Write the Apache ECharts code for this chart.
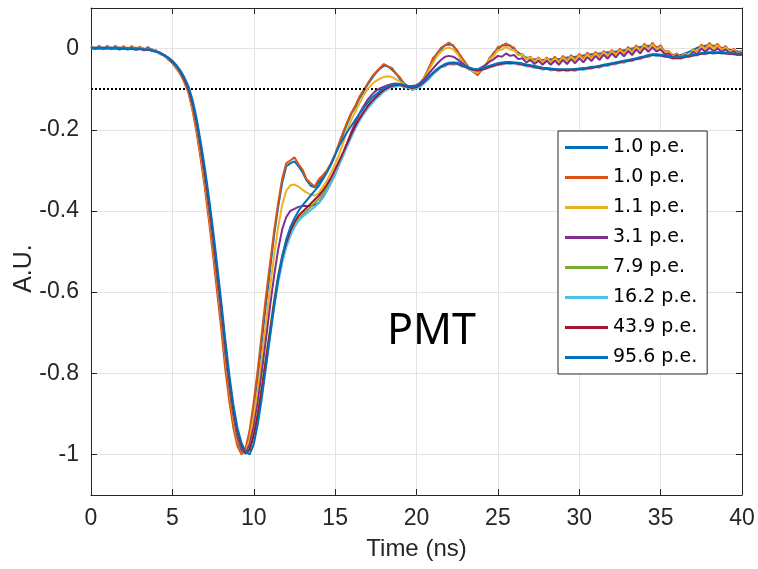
<!DOCTYPE html>
<html><head><meta charset="utf-8">
<script src="https://cdn.jsdelivr.net/npm/echarts@6/dist/echarts.min.js"></script>
<style>html,body{margin:0;padding:0;background:#fff}#c{width:758px;height:569px}</style>
</head><body><div id="c"></div>
<script>
const timeNs = [0,0.25,0.5,0.75,1,1.25,1.5,1.75,2,2.25,2.5,2.75,3,3.25,3.5,3.75,
4,4.25,4.5,4.75,5,5.25,5.5,5.75,6,6.25,6.5,6.75,7,7.25,7.5,7.75,8,8.25,8.5,8.75,9,9.25,9.5,9.75,
10,10.25,10.5,10.75,11,11.25,11.5,11.75,12,12.25,12.5,12.75,13,13.25,13.5,13.75,14,14.25,14.5,14.75,
15,15.25,15.5,15.75,16,16.25,16.5,16.75,17,17.25,17.5,17.75,18,18.25,18.5,18.75,19,19.25,19.5,19.75,
20,20.25,20.5,20.75,21,21.25,21.5,21.75,22,22.25,22.5,22.75,23,23.25,23.5,23.75,24,24.25,24.5,24.75,
25,25.25,25.5,25.75,26,26.25,26.5,26.75,27,27.25,27.5,27.75,28,28.25,28.5,28.75,29,29.25,29.5,29.75,
30,30.25,30.5,30.75,31,31.25,31.5,31.75,32,32.25,32.5,32.75,33,33.25,33.5,33.75,34,34.25,34.5,34.75,
35,35.25,35.5,35.75,36,36.25,36.5,36.75,37,37.25,37.5,37.75,38,38.25,38.5,38.75,39,39.25,39.5,39.75,40];

const seriesNames = ['1.0 p.e.', '1.0 p.e. ', '1.1 p.e.', '3.1 p.e.', '7.9 p.e.', '16.2 p.e.', '43.9 p.e.', '95.6 p.e.'];
const seriesColors = ['#0072BD','#D95319','#EDB120','#7E2F8E','#77AC30','#4DBEEE','#A2142F','#0072BD'];

const pe1_0a = [0.001,0.003,0.001,0.003,0.001,0.003,0,0.003,0,0.002,-0.001,0.002,-0.001,0,-0.003,-0.002,
-0.007,-0.01,-0.018,-0.024,-0.036,-0.046,-0.064,-0.08,-0.108,-0.148,-0.2,-0.265,-0.335,-0.41,-0.495,-0.585,
-0.675,-0.77,-0.855,-0.925,-0.97,-0.995,-0.99,-0.95,-0.885,-0.81,-0.72,-0.63,-0.545,-0.46,-0.39,-0.33,
-0.29,-0.283,-0.278,-0.29,-0.305,-0.325,-0.338,-0.342,-0.33,-0.316,-0.302,-0.285,-0.262,-0.236,-0.21,-0.184,
-0.16,-0.144,-0.122,-0.106,-0.088,-0.074,-0.06,-0.05,-0.042,-0.044,-0.052,-0.062,-0.076,-0.086,-0.096,-0.1,
-0.096,-0.084,-0.07,-0.048,-0.03,-0.012,-0.002,0.008,0.01,0.008,-0.008,-0.02,-0.036,-0.048,-0.058,-0.062,
-0.054,-0.04,-0.026,-0.01,-0.002,0.008,0.008,0.008,-0.004,-0.01,-0.018,-0.022,-0.026,-0.026,-0.028,-0.028,
-0.028,-0.026,-0.026,-0.026,-0.024,-0.022,-0.022,-0.02,-0.019,-0.017,-0.016,-0.014,-0.014,-0.012,-0.011,-0.009,
-0.009,-0.007,-0.006,-0.004,-0.002,0,0.002,0.004,0.006,0.007,0.006,0.004,0,-0.006,-0.012,-0.015,
-0.017,-0.016,-0.012,-0.008,-0.003,0.002,0.005,0.007,0.008,0.007,0.004,0.002,-0.001,-0.003,-0.005,-0.007,-0.008];

const pe1_0b = [0.006,-0.001,0.007,-0.001,0.007,-0.001,0.007,-0.001,0.006,-0.002,0.006,-0.002,0.005,-0.003,0.004,-0.004,
-0.004,-0.014,-0.016,-0.028,-0.034,-0.05,-0.062,-0.085,-0.11,-0.155,-0.21,-0.275,-0.345,-0.425,-0.51,-0.6,
-0.69,-0.79,-0.87,-0.935,-0.98,-1.0,-0.985,-0.94,-0.87,-0.79,-0.7,-0.61,-0.53,-0.45,-0.38,-0.32,
-0.282,-0.276,-0.268,-0.285,-0.298,-0.322,-0.332,-0.34,-0.322,-0.312,-0.3,-0.282,-0.26,-0.232,-0.205,-0.18,
-0.158,-0.14,-0.118,-0.102,-0.086,-0.07,-0.058,-0.048,-0.038,-0.044,-0.048,-0.062,-0.072,-0.088,-0.094,-0.102,
-0.092,-0.088,-0.068,-0.05,-0.024,-0.014,0.002,0.008,0.015,0.006,-0.004,-0.022,-0.034,-0.052,-0.056,-0.066,
-0.052,-0.044,-0.022,-0.014,0.004,0.006,0.013,0.006,0.002,-0.014,-0.014,-0.026,-0.02,-0.032,-0.022,-0.033,
-0.022,-0.033,-0.02,-0.032,-0.018,-0.03,-0.016,-0.028,-0.013,-0.025,-0.01,-0.022,-0.008,-0.02,-0.006,-0.017,
-0.003,-0.015,0,-0.012,0.004,-0.008,0.008,-0.004,0.012,0,0.014,0.001,0.008,-0.008,-0.006,-0.018,
-0.012,-0.022,-0.012,-0.018,-0.002,-0.008,0.01,0,0.014,0.002,0.012,-0.002,0.006,-0.008,0,-0.012,-0.006];

const pe1_1 = [0.005,-0.001,0.005,-0.001,0.005,-0.001,0.005,-0.002,0.004,-0.002,0.004,-0.003,0.003,-0.004,0.002,-0.005,
-0.005,-0.013,-0.016,-0.026,-0.034,-0.048,-0.062,-0.082,-0.106,-0.148,-0.198,-0.26,-0.33,-0.405,-0.49,-0.575,
-0.665,-0.76,-0.845,-0.915,-0.965,-0.993,-0.995,-0.962,-0.905,-0.84,-0.76,-0.675,-0.59,-0.51,-0.44,-0.385,
-0.35,-0.337,-0.335,-0.34,-0.348,-0.355,-0.36,-0.362,-0.356,-0.34,-0.325,-0.305,-0.285,-0.26,-0.232,-0.2,
-0.175,-0.155,-0.135,-0.115,-0.1,-0.088,-0.08,-0.074,-0.07,-0.068,-0.07,-0.076,-0.082,-0.09,-0.095,-0.096,
-0.092,-0.084,-0.07,-0.054,-0.036,-0.02,-0.008,0,0.002,-0.002,-0.012,-0.028,-0.04,-0.052,-0.056,-0.06,
-0.05,-0.042,-0.026,-0.018,-0.004,-0.002,0.004,-0.002,-0.004,-0.016,-0.016,-0.026,-0.022,-0.033,-0.024,-0.034,
-0.024,-0.035,-0.024,-0.034,-0.022,-0.032,-0.02,-0.03,-0.017,-0.028,-0.014,-0.025,-0.012,-0.022,-0.009,-0.019,
-0.006,-0.017,-0.003,-0.014,0,-0.01,0.004,-0.006,0.008,-0.002,0.01,-0.002,0.004,-0.01,-0.008,-0.02,
-0.014,-0.022,-0.013,-0.018,-0.004,-0.01,0.006,-0.002,0.01,0,0.008,-0.004,0.003,-0.009,-0.002,-0.013,-0.008];

const pe3_1 = [0.004,-0.001,0.004,-0.001,0.004,-0.001,0.004,-0.002,0.003,-0.002,0.003,-0.003,0.002,-0.004,0.001,-0.005,
-0.006,-0.012,-0.017,-0.025,-0.034,-0.046,-0.06,-0.08,-0.104,-0.142,-0.192,-0.252,-0.32,-0.395,-0.478,-0.565,
-0.655,-0.75,-0.835,-0.905,-0.958,-0.99,-0.998,-0.975,-0.93,-0.87,-0.795,-0.715,-0.635,-0.56,-0.495,-0.445,
-0.415,-0.4,-0.395,-0.39,-0.388,-0.388,-0.388,-0.385,-0.38,-0.366,-0.35,-0.33,-0.31,-0.285,-0.26,-0.232,
-0.205,-0.182,-0.16,-0.142,-0.126,-0.114,-0.104,-0.098,-0.094,-0.09,-0.087,-0.086,-0.088,-0.09,-0.092,-0.092,
-0.09,-0.084,-0.074,-0.062,-0.05,-0.038,-0.028,-0.02,-0.018,-0.02,-0.026,-0.034,-0.042,-0.048,-0.05,-0.052,
-0.046,-0.04,-0.032,-0.026,-0.018,-0.02,-0.012,-0.018,-0.016,-0.026,-0.024,-0.034,-0.028,-0.038,-0.03,-0.04,
-0.03,-0.04,-0.03,-0.04,-0.028,-0.038,-0.026,-0.036,-0.024,-0.034,-0.021,-0.031,-0.018,-0.028,-0.015,-0.025,
-0.012,-0.022,-0.009,-0.019,-0.006,-0.016,-0.002,-0.012,0.002,-0.008,0.003,-0.007,-0.002,-0.014,-0.012,-0.022,
-0.016,-0.024,-0.016,-0.02,-0.008,-0.014,0,-0.008,0.002,-0.006,0,-0.008,-0.002,-0.012,-0.006,-0.015,-0.01];

const pe7_9 = [0.002,0,0.002,0,0.002,0,0.002,-0.001,0.001,-0.001,0.001,-0.002,0,-0.003,-0.002,-0.005,
-0.007,-0.011,-0.017,-0.023,-0.032,-0.044,-0.058,-0.077,-0.1,-0.137,-0.185,-0.245,-0.31,-0.385,-0.465,-0.552,
-0.643,-0.737,-0.822,-0.895,-0.948,-0.983,-0.998,-0.985,-0.948,-0.895,-0.83,-0.76,-0.69,-0.62,-0.558,-0.51,
-0.475,-0.45,-0.432,-0.418,-0.41,-0.4,-0.39,-0.38,-0.37,-0.358,-0.342,-0.322,-0.302,-0.28,-0.258,-0.235,
-0.212,-0.192,-0.174,-0.158,-0.145,-0.133,-0.122,-0.112,-0.104,-0.098,-0.094,-0.091,-0.09,-0.092,-0.096,-0.098,
-0.096,-0.09,-0.082,-0.072,-0.062,-0.052,-0.045,-0.04,-0.037,-0.035,-0.036,-0.04,-0.044,-0.048,-0.05,-0.052,
-0.05,-0.047,-0.044,-0.041,-0.038,-0.036,-0.035,-0.034,-0.035,-0.036,-0.038,-0.04,-0.042,-0.044,-0.046,-0.048,
-0.049,-0.05,-0.051,-0.052,-0.052,-0.052,-0.052,-0.051,-0.05,-0.049,-0.048,-0.046,-0.045,-0.043,-0.041,-0.039,
-0.037,-0.035,-0.033,-0.031,-0.029,-0.027,-0.025,-0.022,-0.02,-0.017,-0.015,-0.015,-0.016,-0.018,-0.02,-0.022,
-0.023,-0.022,-0.02,-0.018,-0.016,-0.014,-0.012,-0.011,-0.01,-0.01,-0.01,-0.01,-0.011,-0.012,-0.013,-0.014,-0.014];

const pe16_2 = [0.003,-0.002,0.003,-0.002,0.003,-0.002,0.003,-0.003,0.002,-0.003,0.002,-0.004,0.001,-0.005,-0.001,-0.007,
-0.006,-0.013,-0.016,-0.025,-0.031,-0.045,-0.056,-0.076,-0.098,-0.134,-0.181,-0.24,-0.305,-0.378,-0.458,-0.545,
-0.635,-0.728,-0.815,-0.888,-0.942,-0.978,-0.996,-0.99,-0.958,-0.91,-0.848,-0.78,-0.71,-0.64,-0.578,-0.528,
-0.49,-0.462,-0.44,-0.425,-0.414,-0.406,-0.398,-0.39,-0.38,-0.368,-0.35,-0.33,-0.31,-0.286,-0.264,-0.24,
-0.218,-0.196,-0.178,-0.162,-0.148,-0.136,-0.124,-0.116,-0.106,-0.1,-0.094,-0.094,-0.09,-0.096,-0.096,-0.102,
-0.098,-0.094,-0.084,-0.076,-0.064,-0.056,-0.046,-0.044,-0.038,-0.04,-0.038,-0.044,-0.046,-0.052,-0.052,-0.056,
-0.052,-0.05,-0.046,-0.044,-0.04,-0.04,-0.036,-0.038,-0.036,-0.04,-0.04,-0.044,-0.044,-0.048,-0.048,-0.052,
-0.05,-0.054,-0.052,-0.056,-0.053,-0.056,-0.053,-0.055,-0.051,-0.053,-0.049,-0.05,-0.045,-0.047,-0.042,-0.043,
-0.038,-0.039,-0.034,-0.035,-0.03,-0.031,-0.026,-0.026,-0.021,-0.021,-0.016,-0.019,-0.017,-0.021,-0.021,-0.025,
-0.023,-0.025,-0.021,-0.021,-0.016,-0.017,-0.012,-0.014,-0.01,-0.013,-0.01,-0.013,-0.011,-0.014,-0.013,-0.016,-0.015];

const pe43_9 = [0.001,0,0.001,0,0.001,0,0.001,-0.001,0,-0.001,0,-0.002,-0.001,-0.003,-0.003,-0.005,
-0.007,-0.011,-0.016,-0.023,-0.032,-0.043,-0.057,-0.076,-0.099,-0.135,-0.182,-0.242,-0.307,-0.38,-0.46,-0.548,
-0.638,-0.732,-0.818,-0.891,-0.945,-0.98,-0.997,-0.988,-0.953,-0.902,-0.838,-0.768,-0.698,-0.628,-0.565,-0.515,
-0.478,-0.45,-0.428,-0.412,-0.402,-0.392,-0.382,-0.372,-0.362,-0.35,-0.335,-0.318,-0.298,-0.277,-0.255,-0.232,
-0.21,-0.19,-0.172,-0.156,-0.142,-0.13,-0.12,-0.11,-0.102,-0.096,-0.092,-0.09,-0.09,-0.092,-0.095,-0.097,
-0.095,-0.089,-0.081,-0.071,-0.061,-0.052,-0.045,-0.04,-0.037,-0.036,-0.037,-0.041,-0.045,-0.049,-0.052,-0.054,
-0.052,-0.049,-0.045,-0.042,-0.039,-0.037,-0.036,-0.035,-0.036,-0.037,-0.039,-0.041,-0.043,-0.045,-0.047,-0.049,
-0.05,-0.051,-0.052,-0.053,-0.053,-0.053,-0.053,-0.052,-0.051,-0.05,-0.049,-0.047,-0.046,-0.044,-0.042,-0.04,
-0.038,-0.036,-0.034,-0.032,-0.03,-0.028,-0.026,-0.023,-0.021,-0.018,-0.016,-0.016,-0.017,-0.019,-0.021,-0.023,
-0.024,-0.023,-0.021,-0.019,-0.017,-0.015,-0.013,-0.012,-0.011,-0.011,-0.011,-0.011,-0.012,-0.013,-0.014,-0.015,-0.015];

const pe95_6 = [0.002,0.001,0.002,0.001,0.002,0,0.002,0,0.001,-0.001,0.001,-0.002,0,-0.003,-0.002,-0.005,
-0.008,-0.011,-0.016,-0.022,-0.03,-0.041,-0.054,-0.072,-0.094,-0.128,-0.174,-0.232,-0.295,-0.367,-0.446,-0.532,
-0.622,-0.716,-0.804,-0.878,-0.935,-0.972,-0.993,-1.0,-0.975,-0.925,-0.86,-0.785,-0.71,-0.635,-0.568,-0.512,
-0.47,-0.44,-0.418,-0.4,-0.386,-0.374,-0.362,-0.35,-0.338,-0.322,-0.305,-0.285,-0.262,-0.24,-0.222,-0.205,
-0.19,-0.175,-0.16,-0.146,-0.134,-0.122,-0.113,-0.105,-0.098,-0.093,-0.09,-0.088,-0.088,-0.09,-0.092,-0.094,
-0.092,-0.087,-0.08,-0.07,-0.06,-0.051,-0.044,-0.038,-0.035,-0.034,-0.035,-0.039,-0.043,-0.047,-0.05,-0.051,
-0.049,-0.046,-0.042,-0.039,-0.036,-0.034,-0.033,-0.033,-0.034,-0.035,-0.037,-0.039,-0.041,-0.043,-0.045,-0.047,
-0.048,-0.049,-0.05,-0.051,-0.051,-0.051,-0.051,-0.05,-0.049,-0.048,-0.047,-0.045,-0.044,-0.042,-0.04,-0.038,
-0.036,-0.034,-0.032,-0.03,-0.028,-0.026,-0.024,-0.021,-0.019,-0.016,-0.014,-0.014,-0.015,-0.017,-0.019,-0.021,
-0.022,-0.021,-0.019,-0.017,-0.015,-0.013,-0.011,-0.01,-0.009,-0.009,-0.009,-0.009,-0.01,-0.011,-0.012,-0.013,-0.013];

const seriesValues = [pe1_0a, pe1_0b, pe1_1, pe3_1, pe7_9, pe16_2, pe43_9, pe95_6];
const xTickValues = [0,5,10,15,20,25,30,35,40];
const yTickValues = [-1,-0.8,-0.6,-0.4,-0.2,0];
const thresholdLevel = -0.1;
const xRange = [0, 40];
const yRange = [-1.1, 0.1];

const chart = echarts.init(document.getElementById('c'), null, {renderer: 'canvas'});
const axisColor = '#262626';
const gridColor = '#e3e3e3';
const tickFont = 'Liberation Sans';

const series = seriesValues.map((vals, k) => ({
  name: seriesNames[k],
  type: 'line',
  data: timeNs.map((t, i) => [t, vals[i]]),
  symbol: 'none',
  showSymbol: false,
  lineStyle: {width: 2, color: seriesColors[k]},
  itemStyle: {color: seriesColors[k]},
  z: 3 + k,
  animation: false
}));
series.push({
  name: 'threshold',
  type: 'line',
  data: [],
  symbol: 'none',
  animation: false,
  z: 20,
  markLine: {
    silent: true,
    symbol: ['none','none'],
    label: {show: false},
    lineStyle: {type: [2, 2], color: '#000', width: 2},
    data: [{yAxis: thresholdLevel}],
    animation: false
  }
});

chart.setOption({
  animation: false,
  backgroundColor: '#fff',
  grid: {left: 91, right: 16, top: 8, bottom: 74, containLabel: false, outerBoundsMode: 'none'},
  xAxis: [{
    type: 'value', min: xRange[0], max: xRange[1], interval: 5,
    name: 'Time (ns)', nameLocation: 'middle', nameGap: 42,
    nameTextStyle: {fontFamily: tickFont, fontSize: 24, color: axisColor},
    axisLine: {show: true, onZero: false, lineStyle: {color: axisColor, width: 1}},
    axisTick: {show: true, inside: true, length: 6, lineStyle: {color: axisColor}},
    axisLabel: {fontFamily: tickFont, fontSize: 23, color: axisColor, margin: 12},
    splitLine: {show: true, lineStyle: {color: gridColor, width: 1}}
  }, {
    type: 'value', position: 'top', min: xRange[0], max: xRange[1], interval: 5,
    axisLine: {show: true, onZero: false, lineStyle: {color: axisColor, width: 1}},
    axisTick: {show: true, inside: true, length: 6, lineStyle: {color: axisColor}},
    axisLabel: {show: false}, splitLine: {show: false}
  }],
  yAxis: [{
    type: 'value', min: yRange[0], max: yRange[1],
    name: 'A.U.', nameLocation: 'middle', nameGap: 54, nameRotate: 90, nameMoveOverlap: false,
    nameTextStyle: {fontFamily: tickFont, fontSize: 25, color: axisColor, padding: [0, 34, 0, 0]},
    axisLine: {show: true, onZero: false, lineStyle: {color: axisColor, width: 1}},
    axisTick: {show: true, inside: true, length: 6, customValues: yTickValues, lineStyle: {color: axisColor}},
    axisLabel: {fontFamily: tickFont, fontSize: 23, color: axisColor, margin: 12, customValues: yTickValues,
      formatter: v => String(Math.round(v * 10) / 10)},
    splitLine: {show: true, lineStyle: {color: gridColor, width: 1}}
  }, {
    type: 'value', position: 'right', min: yRange[0], max: yRange[1],
    axisLine: {show: true, onZero: false, lineStyle: {color: axisColor, width: 1}},
    axisTick: {show: true, inside: true, length: 6, customValues: yTickValues, lineStyle: {color: axisColor}},
    axisLabel: {show: false}, splitLine: {show: false}
  }],
  legend: {
    data: seriesNames,
    orient: 'vertical',
    left: 558, top: 131,
    padding: [7, 10, 7, 7],
    icon: 'rect',
    itemWidth: 43, itemHeight: 3, itemGap: 11,
    selectedMode: false,
    backgroundColor: '#fff',
    borderColor: axisColor, borderWidth: 1, borderRadius: 0,
    textStyle: {fontFamily: 'DejaVu Sans', fontSize: 19, color: '#000', lineHeight: 19}
  },
  graphic: [{
    type: 'text', left: 387, top: 310, z: 30,
    style: {text: 'PMT', font: '43px "Noto Sans"', fill: '#000'}
  }],
  series: series
});
</script></body></html>
